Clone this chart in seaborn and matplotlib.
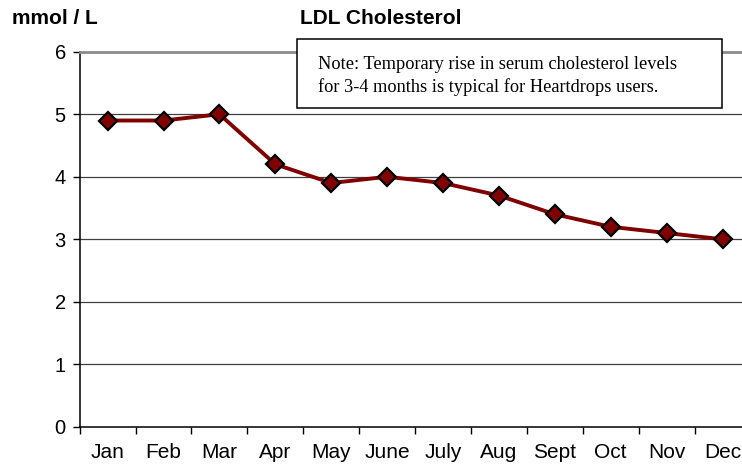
import numpy as np
import pandas as pd
import matplotlib
matplotlib.use('Agg')
import matplotlib.pyplot as plt
import seaborn as sns

months = ['Jan', 'Feb', 'Mar', 'Apr', 'May', 'June', 'July', 'Aug', 'Sept', 'Oct', 'Nov', 'Dec']
ldl = [4.9, 4.9, 5.0, 4.2, 3.9, 4.0, 3.9, 3.7, 3.4, 3.2, 3.1, 3.0]
y_ticks = [0, 1, 2, 3, 4, 5, 6]

df = pd.DataFrame({'pos': np.arange(len(months)), 'month': months, 'ldl': ldl})

sns.set_style('white')
plt.rcParams['font.family'] = ['Liberation Sans', 'DejaVu Sans']
plt.rcParams['text.color'] = 'black'
plt.rcParams['xtick.color'] = 'black'
plt.rcParams['ytick.color'] = 'black'

fig = plt.figure(figsize=(7.42, 4.70), dpi=100)
ax = fig.add_axes([0.1074, 0.0919, 0.904, 0.798])

# gridlines
for v in y_ticks[1:-1]:
    ax.axhline(v, color='#404040', lw=0.9, zorder=1)

sns.lineplot(x='pos', y='ldl', data=df, ax=ax, color='#800000', lw=2.8,
             marker='D', markersize=9, markerfacecolor='#800000',
             markeredgecolor='black', markeredgewidth=1.6, zorder=3)

ax.set_xlim(-0.5, 11.5)
ax.set_ylim(0, 6)
ax.set_xlabel('')
ax.set_ylabel('')

# ticks at category boundaries, labels at centres
ax.set_xticks(np.arange(-0.5, 12, 1))
ax.set_xticklabels([])
ax.set_xticks(np.arange(len(months)), minor=True)
ax.set_xticklabels(months, minor=True, fontsize=15)
ax.tick_params(axis='x', which='major', direction='out', length=5, width=1, color='black', bottom=True)
ax.tick_params(axis='x', which='minor', length=0, pad=11.5)
ax.set_yticks(y_ticks)
ax.set_yticklabels([str(v) for v in y_ticks], fontsize=14.5)
ax.tick_params(axis='y', direction='out', length=5, width=1, color='black', left=True, pad=5)

for s in ['left', 'bottom']:
    ax.spines[s].set_color('black')
    ax.spines[s].set_linewidth(1.1)
ax.spines['top'].set_color('#8c8c8c')
ax.spines['top'].set_linewidth(2)
ax.spines['right'].set_visible(False)

fig.text(12 / 742, 1 - 23.5 / 470, 'mmol / L', fontsize=15, fontweight='bold', va='baseline', ha='left')
fig.text(300 / 742, 1 - 23.5 / 470, 'LDL Cholesterol', fontsize=15, fontweight='bold', va='baseline', ha='left')

# note box
note = ('Note: Temporary rise in serum cholesterol levels\n'
        'for 3-4 months is typical for Heartdrops users.')
fig.patches.append(plt.Rectangle((297 / 742, 1 - 108 / 470), 425 / 742, 69 / 470,
                                 transform=fig.transFigure, facecolor='white',
                                 edgecolor='black', lw=1.1, zorder=5))
fig.text(318 / 742, 1 - 76 / 470, note, family=['Liberation Serif', 'DejaVu Serif'],
         fontsize=13.2, va='center', ha='left', linespacing=1.4, zorder=6)

fig.savefig('out.png', dpi=100)
